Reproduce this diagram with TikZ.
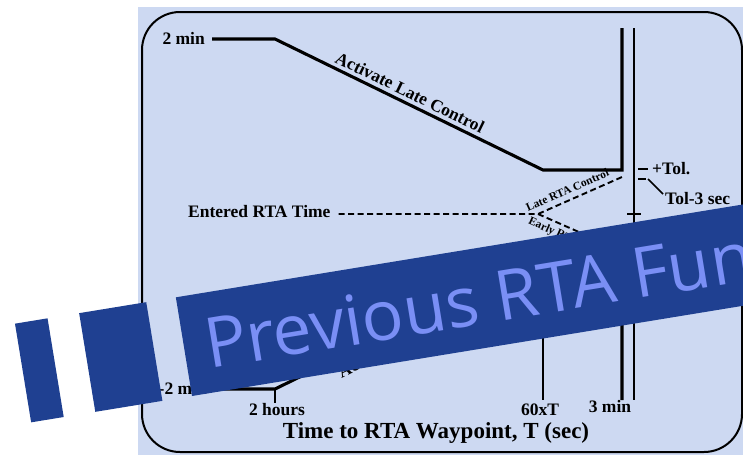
\documentclass[tikz,border=0pt]{standalone}
\usepackage{fontspec}
\setmainfont{Liberation Serif}
\newfontfamily\bannerfont{Open Sans}
\usetikzlibrary{positioning,calc}
\definecolor{bg}{RGB}{205,217,242}
\definecolor{bn}{RGB}{31,64,145}
\definecolor{bt}{RGB}{122,143,245}
\tikzset{lab/.style={font=\bfseries\fontsize{17.5}{20}\selectfont,inner sep=0pt},
 sml/.style={font=\bfseries\fontsize{11.5}{13}\selectfont,inner sep=0pt},
 crv/.style={line width=3.1pt},thn/.style={line width=1.7pt},
 dsh/.style={line width=1.9pt,dash pattern=on 6pt off 3.5pt},
 frame/.style={draw,line width=2pt,rounded corners=38pt}}
\begin{document}
\begin{tikzpicture}[x=1pt,y=-1pt]
\useasboundingbox (0,0) rectangle (743,455);
\fill[bg] (138,7) rectangle (743,455);
\draw[frame] (142,12) rectangle (742,452);
% late and early control curves (mirror images)
\foreach \i/\x/\y in {0/212/39,1/275/39,2/543/170,3/622/170,4/622/28}{
\coordinate (a\i) at (\x,\y);\coordinate (b\i) at (\x,428-\y);}
\draw[crv] (a0)--(a1)--(a2)--(a3)--(a4);
\draw[crv] (b0)--(b1)--(b2)--(b3)--(b4);
\node[lab,anchor=base east] (top) at (205,44) {2 min};
\node[lab,anchor=base east] (bot) at (207,394) {-2 min};
\node[lab,anchor=base west,rotate=-26] (late) at (334,62) {Activate Late Control};
\node[lab,anchor=north west,rotate=26] (early) at (336,367) {Activate Early Control};
% waypoint lines and tolerance ticks
\coordinate (t0) at (634,28);\coordinate (t1) at (634,400);\coordinate (c60) at (543,400);
\draw[thn] (t0)--(t1);\draw[thn] (b2)--(c60);
\coordinate (tk) at (634,214);\draw[thn] ([xshift=-7pt]tk)--([xshift=7pt]tk);
\coordinate (tp) at (643,169);\draw[thn] ([xshift=-5pt]tp)--([xshift=5pt]tp);
\coordinate (tm) at (642,179);\draw[thn] ([xshift=-4pt]tm)--([xshift=4pt]tm);
\coordinate (ld) at (663,194);\draw[line width=1.5pt] ([xshift=6pt]tm)--(ld);
\node[lab,anchor=base west] (tol) at (652,174) {+Tol.};
\node[lab,anchor=base west] (tol3) at (665,204) {Tol-3 sec};
% entered time
\node[lab,anchor=base west] (ert) at (188,217) {Entered RTA Time};
\coordinate (apx) at (538,214);\coordinate (lt) at (622,177);\coordinate (et) at (622,251);
\path (ert.east) ++(8,0) coordinate (ds);
\draw[dsh] (ds |- apx)--(apx)--(lt);
\draw[dsh] (apx)--(et);
\node[sml,anchor=base west,rotate=24] (lrc) at (528,212) {Late RTA Control};
\node[sml,anchor=north west,rotate=-24] (erc) at (531,216) {Early RTA Control};
% axis labels
\node[lab,anchor=base] (hrs) at (277,415) {2 hours};
\draw[thn] (b1)--(b1 |- hrs.north);
\node[lab,anchor=base] (sixty) at (540,415) {60xT};
\node[lab,anchor=base] (three) at (610,412) {3 min};
\node[font=\bfseries\fontsize{23}{27}\selectfont,anchor=base,inner sep=0pt] (ttl) at (436,438) {Time to RTA Waypoint, T (sec)};
% banner
\begin{scope}[shift={(192,396)},rotate=9.3]
\fill[bn] (-163,0) rectangle (-130,-100);
\fill[bn] (-98,0) rectangle (-30,-100);
\fill[bn] (0,0) rectangle (640,-100);
\node[anchor=base west,text=bt,inner sep=0pt,transform shape,font=\bannerfont\fontsize{69.5}{72}\selectfont] (ban) at (21,-24) {Previous RTA Fun};
\end{scope}
\end{tikzpicture}
\end{document}
